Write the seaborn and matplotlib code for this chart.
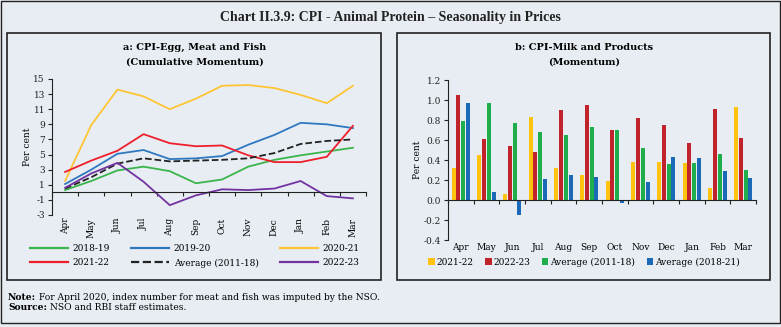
import numpy as np
import pandas as pd
import matplotlib
matplotlib.use("Agg")
import matplotlib.pyplot as plt
from matplotlib.patches import Rectangle
from matplotlib.lines import Line2D
import seaborn as sns

months = ["Apr", "May", "Jun", "Jul", "Aug", "Sep", "Oct", "Nov", "Dec", "Jan", "Feb", "Mar"]

# Panel a: cumulative momentum (per cent)
s2018_19 = [0.3, 1.5, 2.9, 3.4, 2.8, 1.2, 1.7, 3.4, 4.3, 4.9, 5.4, 5.9]
s2019_20 = [1.1, 3.0, 5.1, 5.6, 4.4, 4.5, 4.8, 6.3, 7.6, 9.2, 9.0, 8.5]
s2020_21 = [1.5, 8.9, 13.6, 12.7, 11.0, 12.4, 14.1, 14.2, 13.8, 12.9, 11.8, 14.1]
s2021_22 = [2.7, 4.2, 5.5, 7.7, 6.5, 6.1, 6.2, 4.9, 4.0, 4.0, 4.7, 8.8]
avg_2011_18 = [0.5, 2.0, 3.8, 4.5, 4.1, 4.2, 4.3, 4.5, 5.2, 6.4, 6.8, 7.0]
s2022_23 = [0.6, 2.5, 3.9, 1.4, -1.7, -0.4, 0.4, 0.3, 0.5, 1.5, -0.5, -0.8]

# Panel b: momentum (per cent)
milk_2021_22 = [0.32, 0.45, 0.06, 0.83, 0.32, 0.25, 0.19, 0.38, 0.38, 0.37, 0.12, 0.93]
milk_2022_23 = [1.05, 0.61, 0.54, 0.48, 0.90, 0.95, 0.70, 0.82, 0.75, 0.57, 0.91, 0.62]
milk_avg_2011_18 = [0.79, 0.97, 0.77, 0.68, 0.65, 0.73, 0.70, 0.52, 0.36, 0.37, 0.46, 0.30]
milk_avg_2018_21 = [0.97, 0.08, -0.15, 0.21, 0.25, 0.23, -0.03, 0.18, 0.43, 0.42, 0.29, 0.22]

yticks_a = [-3, -1, 1, 3, 5, 7, 9, 11, 13, 15]
yticks_b = [-0.4, -0.2, 0.0, 0.2, 0.4, 0.6, 0.8, 1.0, 1.2]

BG = "#e8edf4"
SERIF = ["DejaVu Serif"]
plt.rcParams["font.family"] = SERIF

W, H = 781, 327
fig = plt.figure(figsize=(W / 100, H / 100), dpi=100, facecolor=BG)


def fx(px):
    return px / W


def fy(py):
    return 1 - py / H


def box(x0, y0, x1, y1, lw=1.0):
    fig.patches.append(Rectangle((fx(x0), fy(y1)), fx(x1 - x0), (y1 - y0) / H,
                                 transform=fig.transFigure, fill=False,
                                 edgecolor="#222222", linewidth=lw))


box(0.5, 0.5, 780, 323, lw=1.0)
box(7, 33, 381, 280, lw=1.2)
box(397, 33, 770, 280, lw=1.2)

fig.text(fx(390), fy(17), "Chart II.3.9: CPI - Animal Protein \u2013 Seasonality in Prices",
         ha="center", va="center", fontsize=10, family="Liberation Serif", weight="bold",
         color="#222222")

# ---------------- Panel a ----------------
ax1 = fig.add_axes([fx(52), fy(215), fx(366 - 52), (215 - 79) / H])
ax1.set_facecolor(BG)
x = np.arange(len(months))
series_a = [
    ("2018-19", s2018_19, "#3ab54a", "-"),
    ("2019-20", s2019_20, "#2f78c0", "-"),
    ("2020-21", s2020_21, "#fdc534", "-"),
    ("2021-22", s2021_22, "#ee1f2b", "-"),
    ("Average (2011-18)", avg_2011_18, "#222222", "--"),
    ("2022-23", s2022_23, "#7233a0", "-"),
]
handles = {}
for name, vals, col, ls in series_a:
    sns.lineplot(x=x, y=vals, ax=ax1, color=col, linewidth=1.3, linestyle=ls)
    handles[name] = Line2D([], [], color=col, linewidth=1.6, linestyle=ls)

ax1.set_xlim(-0.5, 11.5)
ax1.set_ylim(-3, 15)
ax1.set_yticks(yticks_a)
ax1.set_yticklabels([str(v) for v in yticks_a])
ax1.tick_params(axis="y", labelsize=6.5, length=3, width=0.8, pad=2, colors="#222222")
for s in ["top", "right"]:
    ax1.spines[s].set_visible(False)
ax1.spines["left"].set_color("#222222")
ax1.spines["bottom"].set_position(("data", 0))
ax1.spines["bottom"].set_color("#222222")
ax1.set_xticks(np.arange(-0.5, 12, 1))
ax1.tick_params(axis="x", labelbottom=False, length=3, width=0.8, direction="out", colors="#222222")
sec1 = ax1.secondary_xaxis("bottom")
sec1.set_xticks(x)
sec1.set_xticklabels(months, rotation=90, fontsize=6.5)
sec1.tick_params(length=0, pad=2)
sec1.spines["bottom"].set_visible(False)
ax1.set_ylabel("")
fig.text(fx(27), fy(147), "Per cent", rotation=90, ha="center", va="center", fontsize=6.5)
fig.text(fx(195), fy(47), "a: CPI-Egg, Meat and Fish", ha="center", va="center",
         fontsize=7, weight="bold")
fig.text(fx(195), fy(62), "(Cumulative Momentum)", ha="center", va="center",
         fontsize=7, weight="bold")

order = ["2018-19", "2021-22", "2019-20", "Average (2011-18)", "2020-21", "2022-23"]
fig.legend([handles[k] for k in order], order, ncol=3, loc="center",
           bbox_to_anchor=(fx(195), fy(256)), frameon=False, fontsize=6.5,
           handlelength=4.2, handletextpad=0.5, columnspacing=2.4, labelspacing=0.55)

# ---------------- Panel b ----------------
ax2 = fig.add_axes([fx(448), fy(240), fx(756 - 448), (240 - 80) / H])
ax2.set_facecolor(BG)
names_b = ["2021-22", "2022-23", "Average (2011-18)", "Average (2018-21)"]
vals_b = [milk_2021_22, milk_2022_23, milk_avg_2011_18, milk_avg_2018_21]
df = pd.DataFrame({
    "month": np.tile(months, len(names_b)),
    "series": np.repeat(names_b, len(months)),
    "value": np.concatenate(vals_b),
})
pal = dict(zip(names_b, ["#ffc20e", "#c1232b", "#1fae4b", "#1b6ab8"]))
sns.barplot(data=df, x="month", y="value", hue="series", order=months, hue_order=names_b,
            palette=pal, ax=ax2, width=0.74, gap=0.15, legend=False, saturation=1)
ax2.set_xlim(-0.5, 11.5)
ax2.set_ylim(-0.4, 1.2)
ax2.set_yticks(yticks_b)
ax2.set_yticklabels([f"{v:.1f}" for v in yticks_b])
ax2.tick_params(axis="y", labelsize=6.5, length=3, width=0.8, pad=2, colors="#222222")
for s in ["top", "right"]:
    ax2.spines[s].set_visible(False)
ax2.spines["left"].set_color("#222222")
ax2.spines["bottom"].set_position(("data", 0))
ax2.spines["bottom"].set_color("#222222")
ax2.set_xticks(np.arange(-0.5, 12, 1))
ax2.set_xticklabels([])
ax2.tick_params(axis="x", length=3, width=0.8, direction="out", colors="#222222")
sec2 = ax2.secondary_xaxis("bottom")
sec2.set_xticks(np.arange(len(months)))
sec2.set_xticklabels(months, fontsize=6.5)
sec2.tick_params(length=0, pad=2)
sec2.spines["bottom"].set_visible(False)
ax2.set_xlabel("")
ax2.set_ylabel("")
fig.text(fx(417), fy(160), "Per cent", rotation=90, ha="center", va="center", fontsize=6.5)
fig.text(fx(584), fy(47), "b: CPI-Milk and Products", ha="center", va="center",
         fontsize=7, weight="bold")
fig.text(fx(584), fy(62), "(Momentum)", ha="center", va="center",
         fontsize=7, weight="bold")
sq = [Rectangle((0, 0), 1, 1, facecolor=pal[n], edgecolor="none") for n in names_b]
fig.legend(sq, names_b, ncol=4, loc="center", bbox_to_anchor=(fx(584), fy(262)),
           frameon=False, fontsize=6.5, handlelength=0.7, handleheight=0.7,
           handletextpad=0.2, columnspacing=1.3)

# ---------------- Notes ----------------
renderer = fig.canvas.get_renderer()
for ypx, head, rest in [(297, "Note:", " For April 2020, index number for meat and fish was imputed by the NSO."),
                        (308, "Source:", " NSO and RBI staff estimates.")]:
    t = fig.text(fx(8), fy(ypx), head, ha="left", va="center", fontsize=6.6, weight="bold")
    bb = t.get_window_extent(renderer=renderer)
    fig.text(bb.x1 / fig.bbox.width, fy(ypx), rest, ha="left", va="center", fontsize=6.6)

fig.savefig("out.png", dpi=100, facecolor=BG)
